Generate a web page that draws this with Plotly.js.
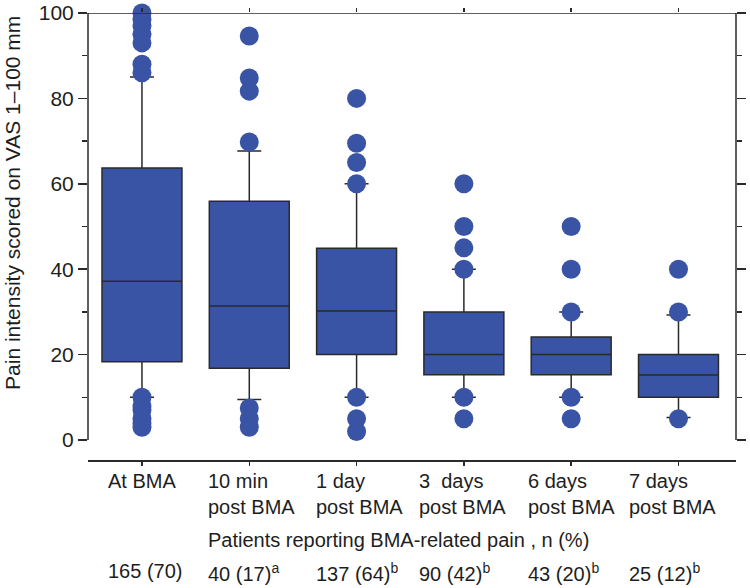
<!DOCTYPE html>
<html>
<head>
<meta charset="utf-8">
<script src="https://cdn.plot.ly/plotly-3.0.1.min.js"></script>
<style>
  html, body { margin: 0; padding: 0; background: #fff; }
  #plot { width: 750px; height: 588px; }
</style>
</head>
<body>
<div id="plot"></div>
<script>
const categories = ['At BMA', '10 min post BMA', '1 day post BMA', '3 days post BMA', '6 days post BMA', '7 days post BMA'];
const tickLabels = ['At BMA', '10 min<br>post BMA', '1 day<br>post BMA', '3&nbsp; days<br>post BMA', '6 days<br>post BMA', '7 days<br>post BMA'];
const patientCounts = ['165 (70)', '40 (17)<sup>a</sup>', '137 (64)<sup>b</sup>', '90 (42)<sup>b</sup>', '43 (20)<sup>b</sup>', '25 (12)<sup>b</sup>'];

const q1 = [18.3, 16.8, 20, 15.3, 15.3, 10];
const median = [37.2, 31.4, 30.2, 20, 20, 15.2];
const q3 = [63.7, 55.9, 44.9, 30, 24.1, 20];
const lowerFence = [10, 9.5, 10, 10, 10, 5.3];
const upperFence = [85, 67.7, 60, 40, 30, 29.3];

const outliers = [
  [100, 98.5, 97, 95, 93, 88, 86, 10, 8, 7, 5, 4, 3],
  [94.6, 84.8, 81.7, 69.8, 7.5, 5, 3],
  [80, 69.5, 65, 60, 10, 5, 2],
  [60, 50, 45, 40, 10, 5],
  [50, 40, 30, 10, 5],
  [40, 30, 5]
];

const blue = '#3953a5';
const ink = '#2a2a2a';
const family = 'Liberation Sans, Arial, sans-serif';
const font = { family: family, size: 20, color: '#1e1e1e' };
const bigFont = { family: family, size: 21, color: '#1e1e1e' };

// label columns are left aligned, shifted from the tick (px)
const colShift = [-36, -43, -43, -47, -45, -51];

const outX = [], outY = [];
outliers.forEach((vals, i) => vals.forEach(v => { outX.push(categories[i]); outY.push(v); }));

const boxTrace = {
  type: 'box', x: categories, q1: q1, median: median, q3: q3,
  lowerfence: lowerFence, upperfence: upperFence,
  boxpoints: false, width: 0.745, whiskerwidth: 0.3,
  fillcolor: blue, line: { color: ink, width: 1.5 },
  hoverinfo: 'skip', showlegend: false
};
const pointTrace = {
  type: 'scatter', mode: 'markers', x: outX, y: outY, cliponaxis: false,
  marker: { size: 19, color: blue }, hoverinfo: 'skip', showlegend: false
};
const ghost = { type: 'scatter', x: [], y: [], xaxis: 'x2', yaxis: 'y2', showlegend: false, hoverinfo: 'skip' };

const xRange = [-0.503, 5.536];
const yRange = [-4.68, 100];

const annotations = [];
tickLabels.forEach((t, i) => {
  annotations.push({ xref: 'x', x: i, xanchor: 'left', xshift: colShift[i], yref: 'paper', y: 0, yanchor: 'top', yshift: -8,
    text: t, align: 'left', showarrow: false, font: font });
  annotations.push({ xref: 'x', x: i, xanchor: 'left', xshift: colShift[i], yref: 'paper', y: 0, yanchor: 'top', yshift: -98,
    text: patientCounts[i], align: 'left', showarrow: false, font: font });
});
annotations.push({ xref: 'x', x: 1, xanchor: 'left', xshift: colShift[1], yref: 'paper', y: 0, yanchor: 'top', yshift: -67,
  text: 'Patients reporting BMA-related pain , n (%)', showarrow: false, font: font });
annotations.push({ xref: 'paper', x: 0, xanchor: 'center', xshift: -75, yref: 'paper', y: 0.575, yanchor: 'middle',
  text: 'Pain intensity scored on VAS 1–100 mm', textangle: -90, showarrow: false, font: bigFont });

const axisLine = { color: ink, width: 1.5 };
const layout = {
  width: 750, height: 588,
  margin: { l: 88, r: 14, t: 13, b: 128 },
  paper_bgcolor: '#fff', plot_bgcolor: '#fff',
  font: font, showlegend: false,
  xaxis: { type: 'category', range: xRange, showgrid: false, zeroline: false,
    showline: true, linecolor: ink, linewidth: 1.5,
    ticks: 'outside', ticklen: 4, tickwidth: 1.5, tickcolor: ink, showticklabels: false },
  xaxis2: { overlaying: 'x', side: 'top', type: 'linear', range: xRange, showgrid: false, zeroline: false,
    tickvals: [0, 1, 2, 3, 4, 5], ticks: 'outside', ticklen: 4, tickwidth: 1.5, tickcolor: ink, showticklabels: false },
  yaxis: { range: yRange, showgrid: false, zeroline: false, showline: false,
    tick0: 0, dtick: 20, ticks: 'outside', ticklen: 9, tickwidth: 1.5, tickcolor: ink,
    minor: { dtick: 10, ticks: 'outside', ticklen: 5, tickwidth: 1.5, tickcolor: ink, showgrid: false },
    tickfont: bigFont },
  yaxis2: { overlaying: 'y', side: 'right', range: yRange, showgrid: false, zeroline: false, showline: false,
    tick0: 0, dtick: 20, ticks: 'outside', ticklen: 9, tickwidth: 1.5, tickcolor: ink, showticklabels: false,
    minor: { dtick: 10, ticks: 'outside', ticklen: 5, tickwidth: 1.5, tickcolor: ink, showgrid: false } },
  shapes: [
    { type: 'line', xref: 'paper', x0: 0, x1: 0, yref: 'y', y0: 0, y1: 100, line: axisLine },
    { type: 'line', xref: 'paper', x0: 1, x1: 1, yref: 'y', y0: 0, y1: 100, line: axisLine },
    { type: 'line', xref: 'paper', x0: 0, x1: 1, yref: 'y', y0: 100, y1: 100, line: axisLine }
  ],
  annotations: annotations
};

Plotly.newPlot('plot', [boxTrace, pointTrace, ghost], layout, { displayModeBar: false, staticPlot: true });
</script>
</body>
</html>
